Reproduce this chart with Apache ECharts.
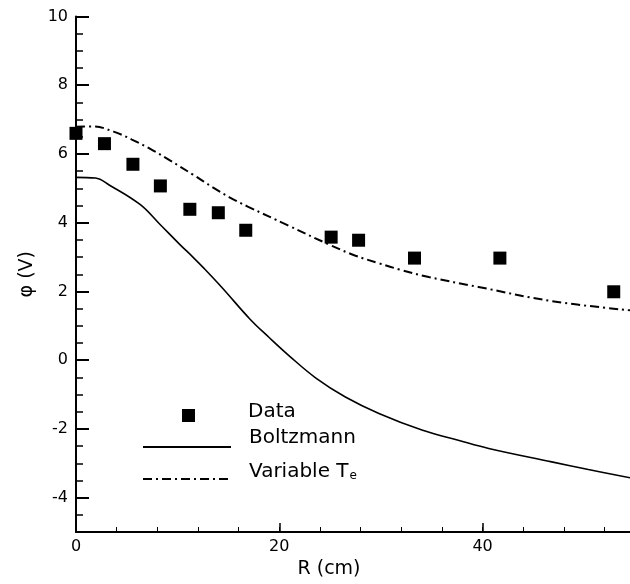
<!DOCTYPE html>
<html>
<head>
<meta charset="utf-8">
<script src="https://cdn.jsdelivr.net/npm/echarts@6/dist/echarts.min.js"></script>
<style>html,body{margin:0;padding:0;background:#fff}#c{width:630px;height:584px}</style>
</head>
<body>
<div id="c"></div>
<script>
// Data
const dataR   = [0, 2.8, 5.6, 8.3, 11.2, 14.0, 16.7, 25.1, 27.8, 33.3, 41.7, 52.9];
const dataPhi = [6.60, 6.30, 5.70, 5.07, 4.39, 4.29, 3.78, 3.58, 3.49, 2.97, 2.97, 1.99];

const boltzR   = [0, 1.9, 3.3, 6.3, 8.2, 10.2, 11.5, 12.6, 14.4, 17.1, 19.0, 21.0, 23.6, 26.5, 29.8, 34.1, 37.6, 40.6, 46.8, 50.4, 54.5];
const boltzPhi = [5.32, 5.30, 5.09, 4.53, 3.97, 3.37, 3.0, 2.67, 2.10, 1.20, 0.66, 0.12, -0.52, -1.07, -1.55, -2.04, -2.33, -2.57, -2.96, -3.18, -3.42];

const varR   = [0, 1.7, 3.7, 5.5, 7.6, 9.2, 11.5, 13.5, 15.1, 16.9, 20.8, 25.0, 27.5, 29.8, 31.8, 34.7, 39.6, 46.8, 54.5];
const varPhi = [6.79, 6.80, 6.65, 6.42, 6.10, 5.82, 5.40, 5.02, 4.74, 4.47, 3.93, 3.35, 3.04, 2.82, 2.64, 2.42, 2.13, 1.72, 1.45];

const xMajor = [0, 20, 40];
const yMajor = [-4, -2, 0, 2, 4, 6, 8, 10];

const pair = (xs, ys) => xs.map((x, i) => [x, ys[i]]);
const FONT = '"DejaVu Sans", sans-serif';

const chart = echarts.init(document.getElementById('c'), null, {renderer: 'canvas'});
const xBase = {
  type: 'value', min: 0, max: 54.5, splitLine: {show: false}
};
const yBase = {
  type: 'value', min: -5, max: 10, splitLine: {show: false}
};
const richT = {t: {fontSize: 20, fontFamily: FONT, color: '#000'},
  sub: {fontSize: 12, fontFamily: FONT, color: '#000', verticalAlign: 'bottom', padding: [9, 0, 0, 1]}};
chart.setOption({
  animation: false,
  backgroundColor: '#fff',
  grid: {left: 76, top: 16.5, right: 0, bottom: 52, containLabel: false},
  xAxis: [
    Object.assign({}, xBase, {
      interval: 4,
      name: 'R (cm)', nameLocation: 'middle', nameGap: 27,
      nameTextStyle: {color: '#000', fontSize: 19, fontFamily: FONT, padding: [0, 48, 0, 0]},
      axisLine: {show: true, onZero: false, lineStyle: {color: '#000', width: 2}},
      axisTick: {show: true, inside: true, length: 5, lineStyle: {color: '#000', width: 1}},
      axisLabel: {customValues: xMajor, color: '#000', fontSize: 16, fontFamily: FONT, margin: 7}
    }),
    Object.assign({}, xBase, {
      interval: 4, position: 'bottom',
      axisLine: {show: false, onZero: false},
      axisTick: {show: true, inside: true, length: 9, customValues: xMajor, lineStyle: {color: '#000', width: 1.5}},
      axisLabel: {show: false}
    })
  ],
  yAxis: [
    Object.assign({}, yBase, {
      interval: 0.5,
      name: 'φ (V)', nameLocation: 'middle', nameGap: 39, nameRotate: 90,
      nameTextStyle: {color: '#000', fontSize: 19, fontFamily: FONT},
      axisLine: {show: true, onZero: false, lineStyle: {color: '#000', width: 2}},
      axisTick: {show: true, inside: true, length: 7, lineStyle: {color: '#000', width: 1.5}},
      axisLabel: {customValues: yMajor, color: '#000', fontSize: 16, fontFamily: FONT, margin: 8}
    }),
    Object.assign({}, yBase, {
      interval: 0.5, position: 'left',
      axisLine: {show: false, onZero: false},
      axisTick: {show: true, inside: true, length: 13, customValues: yMajor, lineStyle: {color: '#000', width: 2}},
      axisLabel: {show: false}
    })
  ],
  legend: [
    {
      data: ['Data'], selectedMode: false, orient: 'vertical', left: 182, top: 401.5, padding: 0,
      itemWidth: 13, itemHeight: 13,
      itemStyle: {opacity: 1},
      formatter: name => '{t|' + name + '}',
      textStyle: {color: '#000', fontSize: 20, fontFamily: FONT, padding: [0, 0, 8, 48], rich: richT}
    },
    {
      data: ['Boltzmann'], selectedMode: false, orient: 'vertical', left: 142, top: 428, padding: 0,
      itemWidth: 88, itemHeight: 14,
      itemStyle: {opacity: 0},
      formatter: name => '{t|' + name + '}',
      textStyle: {color: '#000', fontSize: 20, fontFamily: FONT, padding: [0, 0, 18, 13], rich: richT}
    },
    {
      data: ['Variable Te'], selectedMode: false, orient: 'vertical', left: 142, top: 461.5, padding: 0,
      itemWidth: 88, itemHeight: 14,
      itemStyle: {opacity: 0},
      formatter: () => '{t|Variable T}{sub|e}',
      textStyle: {color: '#000', fontSize: 20, fontFamily: FONT, padding: [0, 0, 15, 13], rich: richT}
    }
  ],
  series: [
    {
      name: 'Boltzmann', type: 'line', data: pair(boltzR, boltzPhi), smooth: 0.4,
      symbol: 'none', lineStyle: {color: '#000', width: 1.6}, itemStyle: {color: '#000'}
    },
    {
      name: 'Variable Te', type: 'line', data: pair(varR, varPhi), smooth: 0.4,
      symbol: 'none', lineStyle: {color: '#000', width: 2, type: [9, 4, 2, 4]}, itemStyle: {color: '#000'}
    },
    {
      name: 'Data', type: 'scatter', data: pair(dataR, dataPhi), symbol: 'rect', symbolSize: 13,
      itemStyle: {color: '#000', opacity: 1}, clip: false, z: 5
    }
  ]
});
</script>
</body>
</html>
